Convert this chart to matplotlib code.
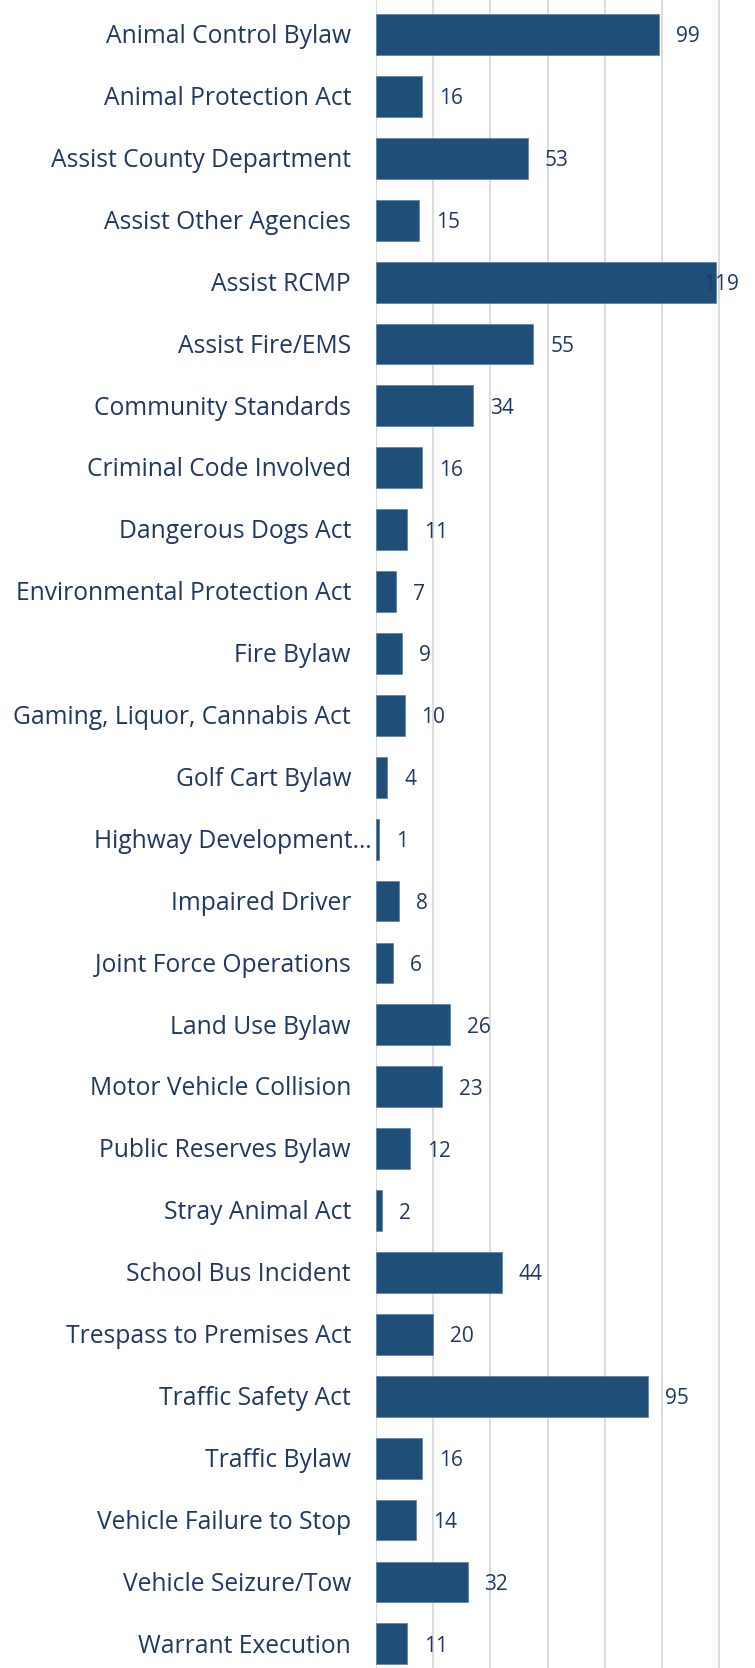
import matplotlib
matplotlib.use("Agg")
import matplotlib.pyplot as plt

categories = [
    "Animal Control Bylaw", "Animal Protection Act", "Assist County Department",
    "Assist Other Agencies", "Assist RCMP", "Assist Fire/EMS", "Community Standards",
    "Criminal Code Involved", "Dangerous Dogs Act", "Environmental Protection Act",
    "Fire Bylaw", "Gaming, Liquor, Cannabis Act", "Golf Cart Bylaw",
    "Highway Development…", "Impaired Driver", "Joint Force Operations",
    "Land Use Bylaw", "Motor Vehicle Collision", "Public Reserves Bylaw",
    "Stray Animal Act", "School Bus Incident", "Trespass to Premises Act",
    "Traffic Safety Act", "Traffic Bylaw", "Vehicle Failure to Stop",
    "Vehicle Seizure/Tow", "Warrant Execution",
]
counts = [99, 16, 53, 15, 119, 55, 34, 16, 11, 7, 9, 10, 4, 1, 8, 6, 26, 23, 12,
          2, 44, 20, 95, 16, 14, 32, 11]

BAR = "#1f4e79"
TEXT = "#1f3864"
GRID = "#d9d9d9"

plt.rcParams["font.family"] = ["Open Sans", "DejaVu Sans"]

W, H, DPI = 755, 1668, 100
fig = plt.figure(figsize=(W / DPI, H / DPI), dpi=DPI)
left = 376 / W
ax = fig.add_axes([left, 0, 1 - left, 1])

y = list(range(len(categories)))
ax.barh(y, counts, height=0.66, color=BAR, edgecolor="#5b7fa3", linewidth=0.5, zorder=3)

ax.set_xlim(0, 132.5)
ax.set_ylim(26.39, -0.557)
ax.set_xticks(range(0, 121, 20))
ax.set_yticks([])
ax.xaxis.grid(True, color=GRID, linewidth=1.3, zorder=0)
ax.tick_params(axis="x", length=0, labelbottom=False)
for s in ax.spines.values():
    s.set_visible(False)
ax.axvline(0, color=GRID, linewidth=1.3, zorder=1)

# category names, right-aligned against the axis (truncated names sit closer)
for yi, name in zip(y, categories):
    pad = 3 if name.endswith("…") else 18
    ax.annotate(name, xy=(0, yi), xytext=(-pad, -1.6), textcoords="offset points",
                ha="right", va="center", fontsize=17.7, color=TEXT,
                annotation_clip=False)

# value labels just past each bar end, kept inside the figure
for yi, v in zip(y, counts):
    ax.annotate(str(v), xy=(min(v + 5.9, 114.3), yi), xytext=(0, -1.8),
                textcoords="offset points", va="center", ha="left",
                fontsize=15, color=TEXT, zorder=4)

fig.savefig("out.png", dpi=DPI)
